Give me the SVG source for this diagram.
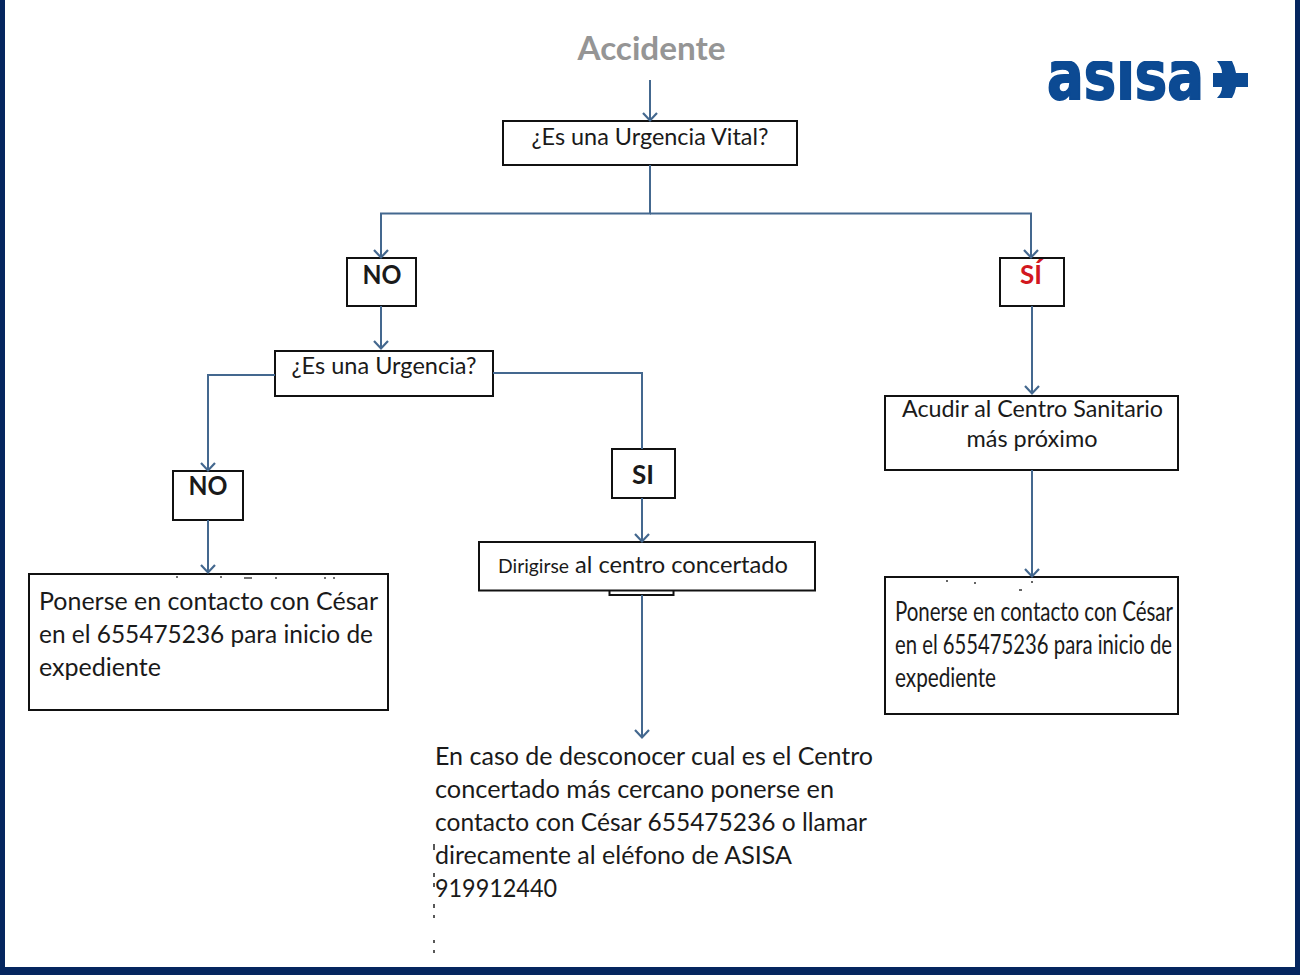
<svg xmlns="http://www.w3.org/2000/svg" width="1300" height="975" viewBox="0 0 1300 975">
<style>
text{font-family:Lato,"Liberation Sans",sans-serif;fill:#1a1a1a}
.box{fill:#fff;stroke:#111;stroke-width:2}
.c{fill:none;stroke:#44688f;stroke-width:2}
.t{font-size:23px}
.b{font-size:26px;font-weight:700}
.l{font-size:25.500px}
.r{font-size:26px}
</style>
<defs>
<marker id="a" markerUnits="userSpaceOnUse" markerWidth="18" markerHeight="18" refX="13" refY="9" orient="auto" viewBox="0 0 18 18"><path d="M5 2L12.500 9L5 16" fill="none" stroke="#44688f" stroke-width="2.200"/></marker>
<clipPath id="lc"><rect x="1040" y="61" width="170" height="42"/></clipPath>
</defs>
<rect width="1300" height="975" fill="#fff"/>
<g id="frame" fill="#05265f"><rect x="0" y="0" width="5" height="975"/><rect x="1295" y="0" width="5" height="975"/><rect x="0" y="967" width="1300" height="8"/></g>
<g id="accidente"><text x="651.500" y="60" text-anchor="middle" textLength="148" lengthAdjust="spacingAndGlyphs" style="font-size:33px;font-weight:700;fill:#959595">Accidente</text></g>
<g id="logo"><g clip-path="url(#lc)"><text transform="translate(1047 99) scale(1 1.220)" x="0" y="0" textLength="157" lengthAdjust="spacingAndGlyphs" style="font-family:'DejaVu Sans',sans-serif;font-size:55px;font-weight:700;fill:#0c4a93;stroke:#0c4a93;stroke-width:1.500">asisa</text></g><path d="M1217 61H1232Q1235 67 1236 73H1248V87H1236Q1235 93 1232 98H1217Q1222 93 1222 87H1213V73H1222Q1222 67 1217 61Z" fill="#0c4a93"/></g>
<g id="n-vital"><rect class="box" x="503" y="121" width="294" height="44"/><text class="t" x="650" y="145" text-anchor="middle" textLength="237" lengthAdjust="spacingAndGlyphs">¿Es una Urgencia Vital?</text></g>
<g id="n-no1"><rect class="box" x="347" y="258" width="69" height="48"/><text class="b" x="382" y="284" text-anchor="middle" textLength="39" lengthAdjust="spacingAndGlyphs">NO</text></g>
<g id="n-si1"><rect class="box" x="1000" y="258" width="64" height="48"/><text class="b" x="1031" y="284" text-anchor="middle" textLength="22" lengthAdjust="spacingAndGlyphs" style="fill:#d2171e">SÍ</text></g>
<g id="n-urg"><rect class="box" x="275" y="351" width="218" height="45"/><text class="t" x="384" y="374" text-anchor="middle" textLength="185" lengthAdjust="spacingAndGlyphs">¿Es una Urgencia?</text></g>
<g id="n-no2"><rect class="box" x="173" y="471" width="70" height="49"/><text class="b" x="208" y="495" text-anchor="middle" textLength="39" lengthAdjust="spacingAndGlyphs">NO</text></g>
<g id="n-si2"><rect class="box" x="612" y="449" width="63" height="49"/><text class="b" x="643" y="484" text-anchor="middle" textLength="22" lengthAdjust="spacingAndGlyphs">SI</text></g>
<g id="n-acudir"><rect class="box" x="885" y="396" width="293" height="74"/><text class="t" x="1032.500" y="417" text-anchor="middle" textLength="261" lengthAdjust="spacingAndGlyphs">Acudir al Centro Sanitario</text><text class="t" x="1032" y="447" text-anchor="middle" textLength="131" lengthAdjust="spacingAndGlyphs">más próximo</text></g>
<g id="n-dirigirse"><rect class="box" x="609.500" y="585" width="64" height="10"/><rect class="box" x="479" y="542" width="336" height="48.500"/><text x="498" y="573" textLength="71" lengthAdjust="spacingAndGlyphs" style="font-size:20px">Dirigirse</text><text x="575" y="573" textLength="213" lengthAdjust="spacingAndGlyphs" style="font-size:23px">al centro concertado</text></g>
<g id="n-contacto1"><rect class="box" x="29" y="574" width="359" height="136"/><text class="l" x="39" y="610" textLength="339" lengthAdjust="spacingAndGlyphs">Ponerse en contacto con César</text><text class="l" x="39" y="643" textLength="334" lengthAdjust="spacingAndGlyphs">en el 655475236 para inicio de</text><text class="l" x="39" y="676" textLength="122" lengthAdjust="spacingAndGlyphs">expediente</text><path d="M176 577h2M220 577h2M244 578h8M275 578h2M324 578h2M333 578h2" stroke="#444" stroke-width="1.500"/></g>
<g id="n-contacto2"><rect class="box" x="885" y="577" width="293" height="137"/><text class="r" x="895" y="621" textLength="278" lengthAdjust="spacingAndGlyphs">Ponerse en contacto con César</text><text class="r" x="895" y="654" textLength="277" lengthAdjust="spacingAndGlyphs">en el 655475236 para inicio de</text><text class="r" x="895" y="687" textLength="101" lengthAdjust="spacingAndGlyphs">expediente</text><path d="M946 581h2M974 583h2M1019 590h3M1031 582h2" stroke="#333" stroke-width="1.500"/></g>
<g id="nota"><text class="l" x="435" y="765" textLength="438" lengthAdjust="spacingAndGlyphs">En caso de desconocer cual es el Centro</text><text class="l" x="435" y="798" textLength="399" lengthAdjust="spacingAndGlyphs">concertado más cercano ponerse en</text><text class="l" x="435" y="831" textLength="432" lengthAdjust="spacingAndGlyphs">contacto con César 655475236 o llamar</text><text class="l" x="435" y="864" textLength="357" lengthAdjust="spacingAndGlyphs">direcamente al eléfono de ASISA</text><text class="l" x="435" y="897" textLength="122" lengthAdjust="spacingAndGlyphs">919912440</text><path d="M434 844V850M434 873V877M434 883V887M434 904V908M434 915V918M434 940V943M434 950V953" stroke="#222" stroke-width="1.500"/></g>
<g id="connectors">
<path class="c" d="M650 80V121" marker-end="url(#a)"/>
<path class="c" d="M650 165V213.500H381V258" marker-end="url(#a)"/>
<path class="c" d="M650 213.500H1031V258" marker-end="url(#a)"/>
<path class="c" d="M381 306V349" marker-end="url(#a)"/>
<path class="c" d="M275 375H208V471" marker-end="url(#a)"/>
<path class="c" d="M493 373H642V449"/>
<path class="c" d="M642 498V542" marker-end="url(#a)"/>
<path class="c" d="M208 520V573" marker-end="url(#a)"/>
<path class="c" d="M1032 306V394" marker-end="url(#a)"/>
<path class="c" d="M1032 470V577" marker-end="url(#a)"/>
<path class="c" d="M642 595V738" marker-end="url(#a)"/>
</g>
</svg>
